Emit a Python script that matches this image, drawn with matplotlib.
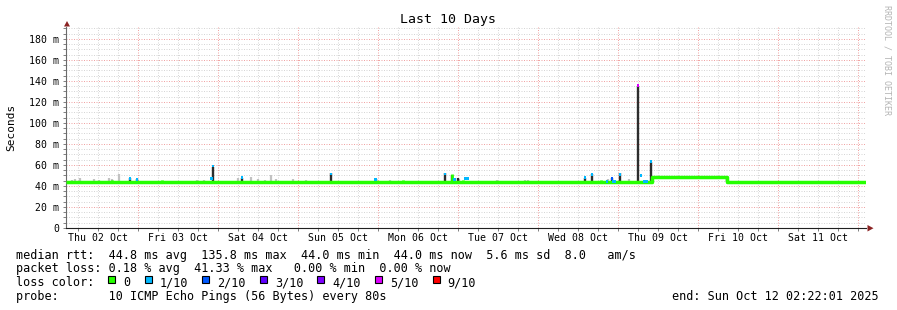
import pandas as pd
import matplotlib
matplotlib.use("Agg")
import matplotlib.pyplot as plt
import matplotlib.dates as mdates
from matplotlib.ticker import MultipleLocator, FuncFormatter
from matplotlib.patches import Polygon, Rectangle

# ---- data (ms) ----
t_start = "2025-10-02 02:22:01"
t_end = "2025-10-12 02:22:01"

# median rtt baseline levels
level_start = ["2025-10-02 02:22", "2025-10-09 10:06", "2025-10-10 08:36"]
level_end = ["2025-10-09 10:06", "2025-10-10 08:36", "2025-10-12 02:22"]
level_ms = [44.0, 48.2, 44.0]

# short green bumps of the median (no loss)
bump_time = ["2025-10-02 16:12", "2025-10-03 07:12", "2025-10-06 07:30",
             "2025-10-06 22:12", "2025-10-07 01:30", "2025-10-08 18:54"]
bump_ms = [46, 46, 46, 51, 46, 46]

# light smoke (grey)
smoke_time = ["2025-10-02 04:12", "2025-10-02 05:06", "2025-10-02 06:36", "2025-10-02 10:48",
              "2025-10-02 12:18", "2025-10-02 15:18", "2025-10-02 16:12", "2025-10-02 18:18",
              "2025-10-03 17:42", "2025-10-03 19:48", "2025-10-04 06:00", "2025-10-04 09:54",
              "2025-10-04 12:00", "2025-10-04 14:06", "2025-10-04 15:54", "2025-10-04 17:24",
              "2025-10-04 22:30", "2025-10-05 02:24", "2025-10-06 03:36", "2025-10-07 00:18",
              "2025-10-07 11:42", "2025-10-07 20:06", "2025-10-07 21:00", "2025-10-08 21:00",
              "2025-10-09 03:18"]
smoke_ms = [46, 47, 48, 47, 46, 48, 47, 51, 46, 46, 48, 49,
            47, 46, 50, 47, 47, 46, 46, 47, 46, 46, 46, 47, 47]

# dark smoke spikes
spike_time = ["2025-10-02 21:36", "2025-10-02 23:42", "2025-10-03 22:30", "2025-10-04 07:12",
              "2025-10-05 09:54", "2025-10-05 23:15", "2025-10-06 20:06", "2025-10-06 22:12",
              "2025-10-07 00:00", "2025-10-08 14:06", "2025-10-08 16:12", "2025-10-08 22:12",
              "2025-10-09 00:36", "2025-10-09 06:00", "2025-10-09 09:54", "2025-10-10 08:36"]
spike_lo = [44, 44, 44, 44, 44, 44, 44, 44, 44, 44, 44, 44, 44, 43, 44, 44]
spike_hi = [47.5, 46.5, 58, 48, 52, 46.5, 52, 50, 48, 48, 51, 47.5, 52, 135.5, 62.5, 48]

# median points with packet loss
loss_time = ["2025-10-02 21:36", "2025-10-02 23:42", "2025-10-03 22:06", "2025-10-03 22:30",
             "2025-10-04 07:12", "2025-10-05 09:54", "2025-10-05 23:15", "2025-10-06 20:06",
             "2025-10-06 22:54", "2025-10-07 02:12", "2025-10-07 02:48", "2025-10-08 14:06",
             "2025-10-08 16:12", "2025-10-08 20:42", "2025-10-08 22:12", "2025-10-08 22:30",
             "2025-10-08 23:06", "2025-10-09 00:36", "2025-10-09 06:00", "2025-10-09 06:54",
             "2025-10-09 08:00", "2025-10-09 08:30", "2025-10-09 09:54"]
loss_ms = [47.5, 46.5, 47, 59, 48, 51.5, 46.5, 51.5, 46, 47, 47, 48,
           51, 44, 47, 44, 44, 51, 135.8, 50, 44, 44, 63]
loss_level = ["1/10", "1/10", "1/10", "1/10", "1/10", "1/10", "1/10", "1/10",
              "1/10", "1/10", "1/10", "1/10", "1/10", "1/10", "2/10", "1/10",
              "1/10", "1/10", "5/10", "1/10", "1/10", "1/10", "1/10"]

loss_labels = ["0", "1/10", "2/10", "3/10", "4/10", "5/10", "9/10"]
loss_colors = ["#26ff00", "#00b8ff", "#0059ff", "#5e00ff", "#7e00ff", "#dd00ff", "#ff0000"]

day_noon = ["2025-10-02 12:00", "2025-10-03 12:00", "2025-10-04 12:00", "2025-10-05 12:00",
            "2025-10-06 12:00", "2025-10-07 12:00", "2025-10-08 12:00", "2025-10-09 12:00",
            "2025-10-10 12:00", "2025-10-11 12:00"]
day_labels = ["Thu 02 Oct", "Fri 03 Oct", "Sat 04 Oct", "Sun 05 Oct", "Mon 06 Oct",
              "Tue 07 Oct", "Wed 08 Oct", "Thu 09 Oct", "Fri 10 Oct", "Sat 11 Oct"]

legend_lines = [
    "median rtt:  44.8 ms avg  135.8 ms max  44.0 ms min  44.0 ms now  5.6 ms sd  8.0   am/s",
    "packet loss: 0.18 % avg  41.33 % max   0.00 % min  0.00 % now",
    "loss color:",
    "probe:       10 ICMP Echo Pings (56 Bytes) every 80s",
]
end_text = "end: Sun Oct 12 02:22:01 2025"


def dn(s):
    return mdates.date2num(pd.to_datetime(s).to_pydatetime())


W, H = 897, 310
mono = "DejaVu Sans Mono"
fig = plt.figure(figsize=(W / 100, H / 100), dpi=100)
fig.patch.set_facecolor("white")
ax = fig.add_axes([66 / W, 82 / H, 800 / W, 201 / H])
ax.set_xlim(dn(t_start), dn(t_end))
ax.set_ylim(0, 191.4)

# grid like rrdtool
ax.xaxis.set_major_locator(MultipleLocator(1.0))
ax.xaxis.set_minor_locator(MultipleLocator(0.25))
ax.yaxis.set_major_locator(MultipleLocator(20))
ax.yaxis.set_minor_locator(MultipleLocator(5))
ax.grid(which="minor", color="#d6d6d6", lw=0.72, ls=(0, (1, 1.5)), zorder=0)
ax.grid(which="major", color="#f0a4a4", lw=0.72, ls=(0, (1, 1.5)), zorder=0)
ax.set_axisbelow(True)

ax.xaxis.set_major_formatter(FuncFormatter(lambda v, p: ""))
ax.yaxis.set_major_formatter(FuncFormatter(lambda v, p: "0" if v == 0 else f"{int(v)} m"))
ax.tick_params(which="both", direction="out", length=2.5, width=0.7, color="#808080",
               labelsize=7.1, pad=2.5)
for lab in ax.get_yticklabels():
    lab.set_fontfamily(mono)
for s in ["top", "right"]:
    ax.spines[s].set_visible(False)
ax.spines["left"].set_color("#6a6a6a")
ax.spines["bottom"].set_color("#202020")
ax.spines["left"].set_linewidth(0.8)
ax.spines["bottom"].set_linewidth(0.8)

# light smoke
ax.vlines([dn(t) for t in smoke_time], 44, smoke_ms, colors="#c2c2c2", lw=1.6, zorder=2)

# dark smoke
ax.vlines([dn(t) for t in spike_time], spike_lo, spike_hi, colors="#2d2d2d", lw=1.7, zorder=3)

# median line (green, no loss)
xs, ys = [], []
for a, b, v in zip(level_start, level_end, level_ms):
    xs += [dn(a), dn(b)]
    ys += [v, v]
ax.plot(xs, ys, color=loss_colors[0], lw=2.5, solid_capstyle="butt", zorder=4)
ax.vlines([dn(t) for t in bump_time], 44, bump_ms, colors=loss_colors[0], lw=2.0, zorder=4)

# median points with loss
cmap = dict(zip(loss_labels, loss_colors))
ax.scatter([dn(t) for t in loss_time], loss_ms, c=[cmap[l] for l in loss_level],
           marker="s", s=4, linewidths=0, zorder=5)

# day labels
for t, lab in zip(day_noon, day_labels):
    ax.text(dn(t), -9.6 / 201, lab, transform=ax.get_xaxis_transform(), ha="center",
            va="center", fontsize=7.1, family=mono)


def fx(x):
    return x / W


def fy(y):
    return 1 - y / H


# axis arrows
fig.patches.append(Polygon([(fx(64), fy(26.5)), (fx(70), fy(26.5)), (fx(67), fy(21))],
                           closed=True, transform=fig.transFigure, color="#8b2323", lw=0))
fig.patches.append(Polygon([(fx(867.5), fy(225)), (fx(867.5), fy(231.5)), (fx(873.5), fy(228.2))],
                           closed=True, transform=fig.transFigure, color="#8b2323", lw=0))

fig.text(fx(448), fy(20), "Last 10 Days", ha="center", va="center", fontsize=9.5, family=mono)
fig.text(fx(11), fy(127), "Seconds", ha="center", va="center", rotation=90, fontsize=8, family=mono)
fig.text(fx(887), fy(60), "RRDTOOL / TOBI OETIKER", ha="center", va="center", rotation=270,
         fontsize=6, family=mono, color="#b4b4b4")

# legend block
line_y = [255, 268.8, 282.5, 296.3]
for y, txt in zip(line_y, legend_lines):
    fig.text(fx(16), fy(y), txt, ha="left", va="center", fontsize=8.5, family=mono)
fig.text(fx(879), fy(line_y[3]), end_text, ha="right", va="center", fontsize=8.5, family=mono)

bx = 108.3
for lab, col in zip(loss_labels, loss_colors):
    fig.patches.append(Rectangle((fx(bx), fy(283)), 7 / W, 7 / H, transform=fig.transFigure,
                                 facecolor=col, edgecolor="black", lw=0.8))
    fig.text(fx(bx + 15), fy(line_y[2]), lab, ha="left", va="center", fontsize=8.5, family=mono)
    bx = bx + 15 + (len(lab) + 2) * 7.1

fig.savefig("out.png", dpi=100, facecolor="white")
